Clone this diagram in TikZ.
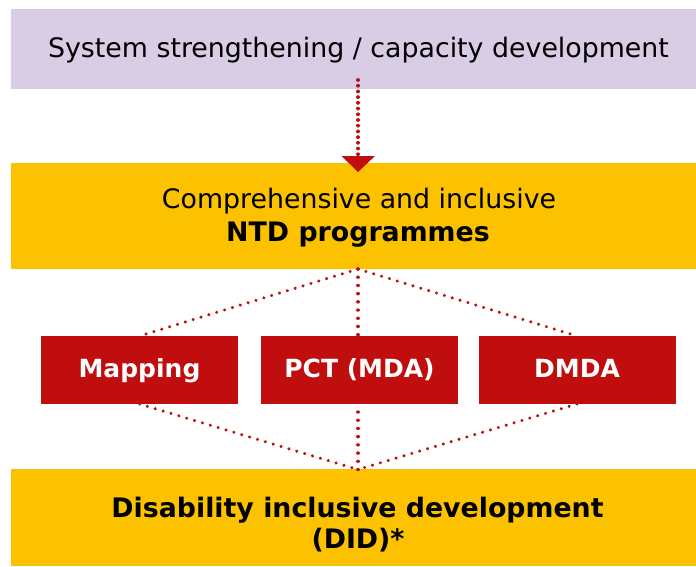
\documentclass[tikz,border=0pt]{standalone}
\usepackage{fontspec}
\setmainfont{DejaVu Sans}
\definecolor{lilac}{HTML}{D9CCE5}
\definecolor{gold}{HTML}{FCC200}
\definecolor{dred}{HTML}{C00D0D}
\begin{document}
\begin{tikzpicture}[x=1pt,y=-1pt,
  band/.style={inner sep=0pt,outer sep=0pt,minimum width=685pt},
  lbl/.style={anchor=base,inner sep=0pt,font=\fontsize{26.8}{30}\selectfont},
  redbox/.style={fill=dred,inner sep=0pt,outer sep=0pt,minimum width=197pt,minimum height=68pt},
  redlbl/.style={anchor=base,inner sep=0pt,text=white,font=\fontsize{25}{30}\selectfont\bfseries},
  dots/.style={draw=dred,line width=3.4pt,line cap=round,dash pattern=on 0.01pt off 8.2pt},
  densedots/.style={dots,line width=3.8pt,dash pattern=on 0.01pt off 5.7pt}]
\useasboundingbox (0,0) rectangle (696,566);
\fill[white] (0,0) rectangle (696,566);
% boxes
\node[band,fill=lilac,minimum height=80pt] (sys) at (353.5,49) {};
\node[band,fill=gold,minimum height=106pt] (ntd) at (353.5,216) {};
\node[redbox] (map) at (139.5,370) {};
\node[redbox] (pct) at (359.5,370) {};
\node[redbox] (dmda) at (577,370) {};
\node[band,fill=gold,minimum height=97pt] (did) at (353.5,517.5) {};
% labels
\node[lbl] (t1) at (358.5,57.3) {System strengthening / capacity development};
\node[lbl] (t2) at (359,208) {Comprehensive and inclusive};
\node[lbl,font=\fontsize{26.8}{30}\selectfont\bfseries] (t3) at (358,241.7) {NTD programmes};
\node[redlbl] (t4) at (map.center |- 0,377.3) {Mapping};
\node[redlbl] (t5) at (pct.center |- 0,377.3) {PCT (MDA)};
\node[redlbl] (t6) at (dmda.center |- 0,377.3) {DMDA};
\node[lbl,font=\fontsize{26.8}{30}\selectfont\bfseries] (t7) at (357.5,517.7) {Disability inclusive development};
\node[lbl,font=\fontsize{26.8}{30}\selectfont\bfseries] (t8) at (358,548) {(DID)*};
% connectors
\coordinate (ntdb) at (358,269);
\coordinate (didt) at (358,469.5);
\coordinate (arrtop) at (358,80);
\coordinate (arrend) at (358,157);
\draw[densedots] (arrtop) -- (arrend);
\fill[dred] (341.5,156) -- (375,156) -- (358,172) -- cycle;
\draw[dots] (ntdb) -- (map.north);
\draw[dots] (ntdb) -- (358,336);
\draw[dots] (ntdb) -- (dmda.north);
\draw[dots] (map.south) -- (didt);
\draw[dots] (didt) -- (358,404);
\draw[dots] (dmda.south) -- (didt);
\end{tikzpicture}
\end{document}
